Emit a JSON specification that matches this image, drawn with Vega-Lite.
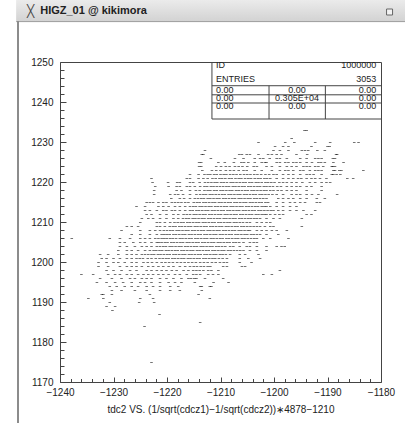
{
"$schema":"https://vega.github.io/schema/vega-lite/v6.json",
"width":321,"height":320,
"autosize":{"type":"none"},
"padding":{"left":60,"top":62,"right":24,"bottom":41},
"background":"#ffffff",
"config":{"view":{"stroke":"#444444","strokeWidth":1},"font":"Liberation Sans","text":{"font":"Liberation Sans","fontSize":9,"color":"#222222"},"rule":{"stroke":"#555555","strokeWidth":1}},
"resolve":{"axis":{"x":"independent","y":"independent"}},
"data":{"values":[{}]},
"datasets":{"pts":[
{"x":-1194.3,"y":1233},{"x":-1193.9,"y":1233},{"x":-1196.7,"y":1231},
{"x":-1202.9,"y":1230},{"x":-1197.9,"y":1230},{"x":-1196.2,"y":1230},{"x":-1192.3,"y":1230},{"x":-1189.5,"y":1230},{"x":-1185.0,"y":1230},{"x":-1184.2,"y":1230},
{"x":-1199.8,"y":1229},{"x":-1198.3,"y":1229},{"x":-1197.3,"y":1229},{"x":-1193.0,"y":1229},{"x":-1190.0,"y":1229},{"x":-1189.6,"y":1229},
{"x":-1212.9,"y":1228},{"x":-1200.1,"y":1228},{"x":-1198.9,"y":1228},{"x":-1197.3,"y":1228},{"x":-1194.8,"y":1228},{"x":-1194.2,"y":1228},{"x":-1193.6,"y":1228},{"x":-1191.9,"y":1228},{"x":-1190.5,"y":1228},
{"x":-1213.5,"y":1227},{"x":-1213.2,"y":1227},{"x":-1206.5,"y":1227},{"x":-1206.0,"y":1227},{"x":-1205.1,"y":1227},{"x":-1204.5,"y":1227},{"x":-1202.9,"y":1227},{"x":-1201.1,"y":1227},{"x":-1200.4,"y":1227},{"x":-1199.5,"y":1227},{"x":-1198.6,"y":1227},{"x":-1195.8,"y":1227},{"x":-1193.8,"y":1227},{"x":-1188.4,"y":1227},{"x":-1188.2,"y":1227},
{"x":-1211.8,"y":1226},{"x":-1207.3,"y":1226},{"x":-1205.7,"y":1226},{"x":-1203.6,"y":1226},{"x":-1202.6,"y":1226},{"x":-1202.0,"y":1226},{"x":-1200.8,"y":1226},{"x":-1199.5,"y":1226},{"x":-1198.9,"y":1226},{"x":-1197.6,"y":1226},{"x":-1195.1,"y":1226},{"x":-1193.9,"y":1226},{"x":-1192.3,"y":1226},{"x":-1191.7,"y":1226},{"x":-1191.1,"y":1226},{"x":-1189.0,"y":1226},{"x":-1188.6,"y":1226},
{"x":-1214.0,"y":1225},{"x":-1213.6,"y":1225},{"x":-1210.4,"y":1225},{"x":-1209.2,"y":1225},{"x":-1207.5,"y":1225},{"x":-1206.1,"y":1225},{"x":-1205.6,"y":1225},{"x":-1204.8,"y":1225},{"x":-1203.6,"y":1225},{"x":-1202.3,"y":1225},{"x":-1201.7,"y":1225},{"x":-1201.4,"y":1225},{"x":-1199.5,"y":1225},{"x":-1198.9,"y":1225},{"x":-1197.9,"y":1225},{"x":-1197.3,"y":1225},{"x":-1196.4,"y":1225},{"x":-1195.8,"y":1225},{"x":-1195.1,"y":1225},{"x":-1193.9,"y":1225},{"x":-1192.9,"y":1225},{"x":-1191.7,"y":1225},{"x":-1191.2,"y":1225},{"x":-1190.5,"y":1225},{"x":-1188.9,"y":1225},{"x":-1187.0,"y":1225},
{"x":-1214.0,"y":1224},{"x":-1213.6,"y":1224},{"x":-1210.8,"y":1224},{"x":-1209.9,"y":1224},{"x":-1209.0,"y":1224},{"x":-1208.3,"y":1224},{"x":-1207.3,"y":1224},{"x":-1206.6,"y":1224},{"x":-1205.9,"y":1224},{"x":-1205.0,"y":1224},{"x":-1203.8,"y":1224},{"x":-1203.2,"y":1224},{"x":-1201.4,"y":1224},{"x":-1200.4,"y":1224},{"x":-1198.9,"y":1224},{"x":-1197.6,"y":1224},{"x":-1196.7,"y":1224},{"x":-1195.8,"y":1224},{"x":-1194.5,"y":1224},{"x":-1193.9,"y":1224},{"x":-1193.3,"y":1224},{"x":-1192.3,"y":1224},{"x":-1191.7,"y":1224},{"x":-1190.8,"y":1224},{"x":-1189.2,"y":1224},{"x":-1189.0,"y":1224},{"x":-1188.6,"y":1224},
{"x":-1213.4,"y":1223},{"x":-1211.6,"y":1223},{"x":-1210.8,"y":1223},{"x":-1210.0,"y":1223},{"x":-1209.0,"y":1223},{"x":-1208.2,"y":1223},{"x":-1207.5,"y":1223},{"x":-1206.6,"y":1223},{"x":-1205.7,"y":1223},{"x":-1205.1,"y":1223},{"x":-1203.6,"y":1223},{"x":-1202.3,"y":1223},{"x":-1200.4,"y":1223},{"x":-1198.9,"y":1223},{"x":-1197.9,"y":1223},{"x":-1197.3,"y":1223},{"x":-1196.4,"y":1223},{"x":-1195.1,"y":1223},{"x":-1194.5,"y":1223},{"x":-1193.3,"y":1223},{"x":-1192.3,"y":1223},{"x":-1191.7,"y":1223},{"x":-1191.1,"y":1223},{"x":-1188.9,"y":1223},{"x":-1188.6,"y":1223},{"x":-1187.8,"y":1223},{"x":-1187.4,"y":1223},{"x":-1183.3,"y":1223},
{"x":-1215.7,"y":1222},{"x":-1214.1,"y":1222},{"x":-1213.0,"y":1222},{"x":-1212.4,"y":1222},{"x":-1211.9,"y":1222},{"x":-1211.2,"y":1222},{"x":-1210.7,"y":1222},{"x":-1210.0,"y":1222},{"x":-1209.4,"y":1222},{"x":-1208.9,"y":1222},{"x":-1208.2,"y":1222},{"x":-1207.6,"y":1222},{"x":-1207.0,"y":1222},{"x":-1206.3,"y":1222},{"x":-1205.6,"y":1222},{"x":-1205.0,"y":1222},{"x":-1204.4,"y":1222},{"x":-1203.7,"y":1222},{"x":-1203.1,"y":1222},{"x":-1202.4,"y":1222},{"x":-1201.6,"y":1222},{"x":-1200.9,"y":1222},{"x":-1200.1,"y":1222},{"x":-1199.5,"y":1222},{"x":-1198.3,"y":1222},{"x":-1197.3,"y":1222},{"x":-1196.4,"y":1222},{"x":-1195.1,"y":1222},{"x":-1193.9,"y":1222},{"x":-1193.3,"y":1222},{"x":-1192.6,"y":1222},{"x":-1191.1,"y":1222},{"x":-1189.2,"y":1222},{"x":-1188.9,"y":1222},{"x":-1188.3,"y":1222},{"x":-1187.6,"y":1222},
{"x":-1222.9,"y":1221},{"x":-1216.3,"y":1221},{"x":-1215.7,"y":1221},{"x":-1214.1,"y":1221},{"x":-1213.2,"y":1221},{"x":-1212.4,"y":1221},{"x":-1211.5,"y":1221},{"x":-1210.9,"y":1221},{"x":-1210.2,"y":1221},{"x":-1209.7,"y":1221},{"x":-1209.1,"y":1221},{"x":-1208.4,"y":1221},{"x":-1207.9,"y":1221},{"x":-1207.2,"y":1221},{"x":-1206.6,"y":1221},{"x":-1206.1,"y":1221},{"x":-1205.4,"y":1221},{"x":-1204.8,"y":1221},{"x":-1204.3,"y":1221},{"x":-1203.6,"y":1221},{"x":-1203.0,"y":1221},{"x":-1202.5,"y":1221},{"x":-1201.8,"y":1221},{"x":-1201.3,"y":1221},{"x":-1200.7,"y":1221},{"x":-1199.5,"y":1221},{"x":-1198.3,"y":1221},{"x":-1197.3,"y":1221},{"x":-1196.4,"y":1221},{"x":-1195.5,"y":1221},{"x":-1194.9,"y":1221},{"x":-1193.9,"y":1221},{"x":-1193.0,"y":1221},{"x":-1192.3,"y":1221},{"x":-1191.4,"y":1221},{"x":-1190.2,"y":1221},{"x":-1186.3,"y":1221},{"x":-1185.2,"y":1221},
{"x":-1222.7,"y":1220},{"x":-1219.8,"y":1220},{"x":-1218.1,"y":1220},{"x":-1217.6,"y":1220},{"x":-1215.7,"y":1220},{"x":-1215.1,"y":1220},{"x":-1213.9,"y":1220},{"x":-1212.9,"y":1220},{"x":-1212.3,"y":1220},{"x":-1211.7,"y":1220},{"x":-1211.1,"y":1220},{"x":-1210.6,"y":1220},{"x":-1209.9,"y":1220},{"x":-1209.4,"y":1220},{"x":-1208.8,"y":1220},{"x":-1208.1,"y":1220},{"x":-1207.6,"y":1220},{"x":-1207.0,"y":1220},{"x":-1206.4,"y":1220},{"x":-1205.8,"y":1220},{"x":-1205.3,"y":1220},{"x":-1204.6,"y":1220},{"x":-1204.1,"y":1220},{"x":-1203.4,"y":1220},{"x":-1202.9,"y":1220},{"x":-1202.3,"y":1220},{"x":-1201.6,"y":1220},{"x":-1201.1,"y":1220},{"x":-1200.5,"y":1220},{"x":-1199.9,"y":1220},{"x":-1199.0,"y":1220},{"x":-1198.3,"y":1220},{"x":-1197.6,"y":1220},{"x":-1196.7,"y":1220},{"x":-1195.8,"y":1220},{"x":-1194.7,"y":1220},{"x":-1193.3,"y":1220},{"x":-1192.3,"y":1220},{"x":-1191.1,"y":1220},{"x":-1190.2,"y":1220},{"x":-1189.5,"y":1220},
{"x":-1222.2,"y":1219},{"x":-1219.7,"y":1219},{"x":-1218.2,"y":1219},{"x":-1217.6,"y":1219},{"x":-1216.3,"y":1219},{"x":-1215.7,"y":1219},{"x":-1214.8,"y":1219},{"x":-1213.8,"y":1219},{"x":-1213.0,"y":1219},{"x":-1212.5,"y":1219},{"x":-1211.8,"y":1219},{"x":-1211.3,"y":1219},{"x":-1210.7,"y":1219},{"x":-1210.1,"y":1219},{"x":-1209.5,"y":1219},{"x":-1208.9,"y":1219},{"x":-1208.4,"y":1219},{"x":-1207.7,"y":1219},{"x":-1207.2,"y":1219},{"x":-1206.6,"y":1219},{"x":-1206.0,"y":1219},{"x":-1205.5,"y":1219},{"x":-1204.8,"y":1219},{"x":-1204.3,"y":1219},{"x":-1203.7,"y":1219},{"x":-1203.1,"y":1219},{"x":-1202.6,"y":1219},{"x":-1201.9,"y":1219},{"x":-1201.4,"y":1219},{"x":-1200.8,"y":1219},{"x":-1200.2,"y":1219},{"x":-1199.4,"y":1219},{"x":-1198.7,"y":1219},{"x":-1197.6,"y":1219},{"x":-1196.7,"y":1219},{"x":-1195.8,"y":1219},{"x":-1195.1,"y":1219},{"x":-1193.9,"y":1219},{"x":-1193.0,"y":1219},{"x":-1191.1,"y":1219},
{"x":-1222.4,"y":1218},{"x":-1218.2,"y":1218},{"x":-1217.3,"y":1218},{"x":-1215.7,"y":1218},{"x":-1214.6,"y":1218},{"x":-1213.9,"y":1218},{"x":-1213.0,"y":1218},{"x":-1212.4,"y":1218},{"x":-1211.9,"y":1218},{"x":-1211.2,"y":1218},{"x":-1210.7,"y":1218},{"x":-1210.0,"y":1218},{"x":-1209.5,"y":1218},{"x":-1208.9,"y":1218},{"x":-1208.3,"y":1218},{"x":-1207.8,"y":1218},{"x":-1207.1,"y":1218},{"x":-1206.6,"y":1218},{"x":-1206.0,"y":1218},{"x":-1205.4,"y":1218},{"x":-1204.9,"y":1218},{"x":-1204.2,"y":1218},{"x":-1203.7,"y":1218},{"x":-1203.1,"y":1218},{"x":-1202.5,"y":1218},{"x":-1201.9,"y":1218},{"x":-1201.4,"y":1218},{"x":-1200.7,"y":1218},{"x":-1200.1,"y":1218},{"x":-1199.3,"y":1218},{"x":-1198.6,"y":1218},{"x":-1197.6,"y":1218},{"x":-1196.7,"y":1218},{"x":-1195.8,"y":1218},{"x":-1193.9,"y":1218},{"x":-1191.1,"y":1218},
{"x":-1222.4,"y":1217},{"x":-1219.4,"y":1217},{"x":-1218.5,"y":1217},{"x":-1217.9,"y":1217},{"x":-1217.0,"y":1217},{"x":-1215.7,"y":1217},{"x":-1214.5,"y":1217},{"x":-1213.8,"y":1217},{"x":-1213.2,"y":1217},{"x":-1212.7,"y":1217},{"x":-1212.0,"y":1217},{"x":-1211.5,"y":1217},{"x":-1210.9,"y":1217},{"x":-1210.3,"y":1217},{"x":-1209.7,"y":1217},{"x":-1209.2,"y":1217},{"x":-1208.5,"y":1217},{"x":-1208.0,"y":1217},{"x":-1207.4,"y":1217},{"x":-1206.8,"y":1217},{"x":-1206.3,"y":1217},{"x":-1205.6,"y":1217},{"x":-1205.1,"y":1217},{"x":-1204.5,"y":1217},{"x":-1203.9,"y":1217},{"x":-1203.4,"y":1217},{"x":-1202.7,"y":1217},{"x":-1202.2,"y":1217},{"x":-1201.6,"y":1217},{"x":-1201.0,"y":1217},{"x":-1200.3,"y":1217},{"x":-1199.5,"y":1217},{"x":-1198.3,"y":1217},{"x":-1196.7,"y":1217},{"x":-1195.8,"y":1217},{"x":-1195.1,"y":1217},{"x":-1193.9,"y":1217},{"x":-1192.9,"y":1217},{"x":-1191.7,"y":1217},{"x":-1188.2,"y":1217},
{"x":-1219.2,"y":1216},{"x":-1217.6,"y":1216},{"x":-1216.8,"y":1216},{"x":-1215.7,"y":1216},{"x":-1214.8,"y":1216},{"x":-1214.2,"y":1216},{"x":-1213.6,"y":1216},{"x":-1213.1,"y":1216},{"x":-1212.4,"y":1216},{"x":-1211.9,"y":1216},{"x":-1211.3,"y":1216},{"x":-1210.7,"y":1216},{"x":-1210.2,"y":1216},{"x":-1209.5,"y":1216},{"x":-1209.0,"y":1216},{"x":-1208.4,"y":1216},{"x":-1207.8,"y":1216},{"x":-1207.3,"y":1216},{"x":-1206.6,"y":1216},{"x":-1206.1,"y":1216},{"x":-1205.5,"y":1216},{"x":-1204.9,"y":1216},{"x":-1204.4,"y":1216},{"x":-1203.7,"y":1216},{"x":-1203.2,"y":1216},{"x":-1202.6,"y":1216},{"x":-1202.0,"y":1216},{"x":-1201.4,"y":1216},{"x":-1199.2,"y":1216},{"x":-1198.3,"y":1216},{"x":-1197.3,"y":1216},{"x":-1196.4,"y":1216},{"x":-1195.1,"y":1216},{"x":-1193.9,"y":1216},{"x":-1192.0,"y":1216},{"x":-1190.5,"y":1216},
{"x":-1223.8,"y":1215},{"x":-1223.2,"y":1215},{"x":-1222.6,"y":1215},{"x":-1221.6,"y":1215},{"x":-1220.7,"y":1215},{"x":-1220.1,"y":1215},{"x":-1219.1,"y":1215},{"x":-1218.5,"y":1215},{"x":-1217.9,"y":1215},{"x":-1217.3,"y":1215},{"x":-1216.6,"y":1215},{"x":-1216.0,"y":1215},{"x":-1215.0,"y":1215},{"x":-1214.4,"y":1215},{"x":-1213.9,"y":1215},{"x":-1213.2,"y":1215},{"x":-1212.7,"y":1215},{"x":-1212.1,"y":1215},{"x":-1211.5,"y":1215},{"x":-1211.0,"y":1215},{"x":-1210.3,"y":1215},{"x":-1209.8,"y":1215},{"x":-1209.2,"y":1215},{"x":-1208.6,"y":1215},{"x":-1208.1,"y":1215},{"x":-1207.4,"y":1215},{"x":-1206.9,"y":1215},{"x":-1206.3,"y":1215},{"x":-1205.7,"y":1215},{"x":-1205.2,"y":1215},{"x":-1204.5,"y":1215},{"x":-1204.0,"y":1215},{"x":-1203.4,"y":1215},{"x":-1202.8,"y":1215},{"x":-1202.3,"y":1215},{"x":-1201.6,"y":1215},{"x":-1201.1,"y":1215},{"x":-1199.5,"y":1215},{"x":-1198.3,"y":1215},{"x":-1197.0,"y":1215},{"x":-1196.1,"y":1215},{"x":-1195.1,"y":1215},{"x":-1194.2,"y":1215},{"x":-1192.0,"y":1215},{"x":-1191.4,"y":1215},
{"x":-1225.7,"y":1214},{"x":-1224.1,"y":1214},{"x":-1221.6,"y":1214},{"x":-1220.7,"y":1214},{"x":-1219.7,"y":1214},{"x":-1218.5,"y":1214},{"x":-1217.6,"y":1214},{"x":-1216.6,"y":1214},{"x":-1215.7,"y":1214},{"x":-1215.1,"y":1214},{"x":-1214.6,"y":1214},{"x":-1213.9,"y":1214},{"x":-1213.4,"y":1214},{"x":-1212.8,"y":1214},{"x":-1212.2,"y":1214},{"x":-1211.7,"y":1214},{"x":-1211.0,"y":1214},{"x":-1210.5,"y":1214},{"x":-1209.9,"y":1214},{"x":-1209.3,"y":1214},{"x":-1208.8,"y":1214},{"x":-1208.1,"y":1214},{"x":-1207.6,"y":1214},{"x":-1207.0,"y":1214},{"x":-1206.4,"y":1214},{"x":-1205.9,"y":1214},{"x":-1205.2,"y":1214},{"x":-1204.7,"y":1214},{"x":-1204.1,"y":1214},{"x":-1203.5,"y":1214},{"x":-1203.0,"y":1214},{"x":-1202.3,"y":1214},{"x":-1201.8,"y":1214},{"x":-1201.4,"y":1214},{"x":-1200.7,"y":1214},{"x":-1199.5,"y":1214},{"x":-1198.3,"y":1214},{"x":-1197.0,"y":1214},{"x":-1195.8,"y":1214},
{"x":-1224.1,"y":1213},{"x":-1223.2,"y":1213},{"x":-1221.9,"y":1213},{"x":-1220.7,"y":1213},{"x":-1220.1,"y":1213},{"x":-1219.1,"y":1213},{"x":-1218.5,"y":1213},{"x":-1217.6,"y":1213},{"x":-1216.6,"y":1213},{"x":-1215.7,"y":1213},{"x":-1215.2,"y":1213},{"x":-1214.5,"y":1213},{"x":-1214.0,"y":1213},{"x":-1213.4,"y":1213},{"x":-1212.8,"y":1213},{"x":-1212.3,"y":1213},{"x":-1211.6,"y":1213},{"x":-1211.1,"y":1213},{"x":-1210.5,"y":1213},{"x":-1209.9,"y":1213},{"x":-1209.4,"y":1213},{"x":-1208.7,"y":1213},{"x":-1208.2,"y":1213},{"x":-1207.6,"y":1213},{"x":-1207.0,"y":1213},{"x":-1206.5,"y":1213},{"x":-1205.8,"y":1213},{"x":-1205.3,"y":1213},{"x":-1204.7,"y":1213},{"x":-1204.1,"y":1213},{"x":-1203.6,"y":1213},{"x":-1202.9,"y":1213},{"x":-1202.4,"y":1213},{"x":-1201.8,"y":1213},{"x":-1201.2,"y":1213},{"x":-1200.6,"y":1213},{"x":-1200.1,"y":1213},{"x":-1199.2,"y":1213},{"x":-1198.3,"y":1213},{"x":-1197.0,"y":1213},{"x":-1195.8,"y":1213},{"x":-1194.5,"y":1213},{"x":-1192.3,"y":1213},
{"x":-1223.8,"y":1212},{"x":-1222.9,"y":1212},{"x":-1221.3,"y":1212},{"x":-1220.1,"y":1212},{"x":-1218.8,"y":1212},{"x":-1217.9,"y":1212},{"x":-1216.9,"y":1212},{"x":-1216.3,"y":1212},{"x":-1215.7,"y":1212},{"x":-1215.0,"y":1212},{"x":-1214.5,"y":1212},{"x":-1213.9,"y":1212},{"x":-1213.3,"y":1212},{"x":-1212.8,"y":1212},{"x":-1212.1,"y":1212},{"x":-1211.6,"y":1212},{"x":-1211.0,"y":1212},{"x":-1210.4,"y":1212},{"x":-1209.9,"y":1212},{"x":-1209.2,"y":1212},{"x":-1208.7,"y":1212},{"x":-1208.1,"y":1212},{"x":-1207.5,"y":1212},{"x":-1207.0,"y":1212},{"x":-1206.3,"y":1212},{"x":-1205.8,"y":1212},{"x":-1205.2,"y":1212},{"x":-1204.6,"y":1212},{"x":-1204.1,"y":1212},{"x":-1203.4,"y":1212},{"x":-1202.9,"y":1212},{"x":-1202.3,"y":1212},{"x":-1201.8,"y":1212},{"x":-1201.4,"y":1212},{"x":-1200.7,"y":1212},{"x":-1199.8,"y":1212},{"x":-1199.0,"y":1212},{"x":-1198.3,"y":1212},{"x":-1193.9,"y":1212},{"x":-1193.0,"y":1212},
{"x":-1224.7,"y":1211},{"x":-1223.5,"y":1211},{"x":-1222.6,"y":1211},{"x":-1221.3,"y":1211},{"x":-1220.1,"y":1211},{"x":-1218.8,"y":1211},{"x":-1217.9,"y":1211},{"x":-1217.0,"y":1211},{"x":-1216.4,"y":1211},{"x":-1215.9,"y":1211},{"x":-1215.2,"y":1211},{"x":-1214.7,"y":1211},{"x":-1214.1,"y":1211},{"x":-1213.5,"y":1211},{"x":-1213.0,"y":1211},{"x":-1212.3,"y":1211},{"x":-1211.8,"y":1211},{"x":-1211.2,"y":1211},{"x":-1210.6,"y":1211},{"x":-1210.1,"y":1211},{"x":-1209.4,"y":1211},{"x":-1208.9,"y":1211},{"x":-1208.3,"y":1211},{"x":-1207.7,"y":1211},{"x":-1207.2,"y":1211},{"x":-1206.5,"y":1211},{"x":-1206.0,"y":1211},{"x":-1205.4,"y":1211},{"x":-1204.8,"y":1211},{"x":-1204.3,"y":1211},{"x":-1203.7,"y":1211},{"x":-1203.2,"y":1211},{"x":-1202.6,"y":1211},{"x":-1201.4,"y":1211},{"x":-1200.1,"y":1211},{"x":-1198.9,"y":1211},{"x":-1194.8,"y":1211},
{"x":-1225.0,"y":1210},{"x":-1221.9,"y":1210},{"x":-1221.3,"y":1210},{"x":-1220.4,"y":1210},{"x":-1219.4,"y":1210},{"x":-1218.6,"y":1210},{"x":-1218.0,"y":1210},{"x":-1217.4,"y":1210},{"x":-1216.9,"y":1210},{"x":-1216.2,"y":1210},{"x":-1215.7,"y":1210},{"x":-1215.1,"y":1210},{"x":-1214.5,"y":1210},{"x":-1214.0,"y":1210},{"x":-1213.3,"y":1210},{"x":-1212.8,"y":1210},{"x":-1212.2,"y":1210},{"x":-1211.6,"y":1210},{"x":-1211.1,"y":1210},{"x":-1210.4,"y":1210},{"x":-1209.9,"y":1210},{"x":-1209.3,"y":1210},{"x":-1208.7,"y":1210},{"x":-1208.2,"y":1210},{"x":-1207.5,"y":1210},{"x":-1207.0,"y":1210},{"x":-1206.4,"y":1210},{"x":-1205.8,"y":1210},{"x":-1205.1,"y":1210},{"x":-1204.5,"y":1210},{"x":-1203.2,"y":1210},{"x":-1202.3,"y":1210},{"x":-1201.4,"y":1210},{"x":-1200.7,"y":1210},
{"x":-1227.5,"y":1209},{"x":-1226.6,"y":1209},{"x":-1225.4,"y":1209},{"x":-1221.9,"y":1209},{"x":-1221.3,"y":1209},{"x":-1220.4,"y":1209},{"x":-1219.5,"y":1209},{"x":-1218.9,"y":1209},{"x":-1218.4,"y":1209},{"x":-1217.7,"y":1209},{"x":-1217.2,"y":1209},{"x":-1216.6,"y":1209},{"x":-1216.0,"y":1209},{"x":-1215.5,"y":1209},{"x":-1214.8,"y":1209},{"x":-1214.3,"y":1209},{"x":-1213.7,"y":1209},{"x":-1213.1,"y":1209},{"x":-1212.6,"y":1209},{"x":-1211.9,"y":1209},{"x":-1211.4,"y":1209},{"x":-1210.8,"y":1209},{"x":-1210.2,"y":1209},{"x":-1209.7,"y":1209},{"x":-1209.0,"y":1209},{"x":-1208.5,"y":1209},{"x":-1207.9,"y":1209},{"x":-1207.3,"y":1209},{"x":-1206.8,"y":1209},{"x":-1206.1,"y":1209},{"x":-1205.6,"y":1209},{"x":-1205.0,"y":1209},{"x":-1204.4,"y":1209},{"x":-1203.8,"y":1209},{"x":-1203.2,"y":1209},{"x":-1202.6,"y":1209},{"x":-1201.7,"y":1209},{"x":-1200.7,"y":1209},{"x":-1200.1,"y":1209},{"x":-1194.8,"y":1209},
{"x":-1228.5,"y":1208},{"x":-1225.0,"y":1208},{"x":-1223.2,"y":1208},{"x":-1222.2,"y":1208},{"x":-1221.3,"y":1208},{"x":-1220.6,"y":1208},{"x":-1220.0,"y":1208},{"x":-1219.4,"y":1208},{"x":-1218.9,"y":1208},{"x":-1218.2,"y":1208},{"x":-1217.7,"y":1208},{"x":-1217.1,"y":1208},{"x":-1216.5,"y":1208},{"x":-1216.0,"y":1208},{"x":-1215.3,"y":1208},{"x":-1214.8,"y":1208},{"x":-1214.2,"y":1208},{"x":-1213.6,"y":1208},{"x":-1213.1,"y":1208},{"x":-1212.4,"y":1208},{"x":-1211.9,"y":1208},{"x":-1211.3,"y":1208},{"x":-1210.7,"y":1208},{"x":-1210.2,"y":1208},{"x":-1209.5,"y":1208},{"x":-1209.0,"y":1208},{"x":-1208.4,"y":1208},{"x":-1207.8,"y":1208},{"x":-1207.3,"y":1208},{"x":-1206.6,"y":1208},{"x":-1206.1,"y":1208},{"x":-1205.5,"y":1208},{"x":-1204.9,"y":1208},{"x":-1204.5,"y":1208},{"x":-1203.2,"y":1208},{"x":-1202.3,"y":1208},{"x":-1201.4,"y":1208},{"x":-1200.4,"y":1208},{"x":-1199.5,"y":1208},{"x":-1197.6,"y":1208},
{"x":-1226.6,"y":1207},{"x":-1225.0,"y":1207},{"x":-1223.2,"y":1207},{"x":-1221.9,"y":1207},{"x":-1221.0,"y":1207},{"x":-1220.5,"y":1207},{"x":-1220.0,"y":1207},{"x":-1219.5,"y":1207},{"x":-1218.8,"y":1207},{"x":-1218.3,"y":1207},{"x":-1217.7,"y":1207},{"x":-1217.1,"y":1207},{"x":-1216.6,"y":1207},{"x":-1215.9,"y":1207},{"x":-1215.4,"y":1207},{"x":-1214.8,"y":1207},{"x":-1214.2,"y":1207},{"x":-1213.7,"y":1207},{"x":-1213.0,"y":1207},{"x":-1212.5,"y":1207},{"x":-1211.9,"y":1207},{"x":-1211.3,"y":1207},{"x":-1210.8,"y":1207},{"x":-1210.1,"y":1207},{"x":-1209.6,"y":1207},{"x":-1209.0,"y":1207},{"x":-1208.4,"y":1207},{"x":-1207.9,"y":1207},{"x":-1207.2,"y":1207},{"x":-1206.7,"y":1207},{"x":-1206.1,"y":1207},{"x":-1205.5,"y":1207},{"x":-1205.0,"y":1207},{"x":-1204.3,"y":1207},{"x":-1203.8,"y":1207},{"x":-1203.2,"y":1207},{"x":-1202.6,"y":1207},{"x":-1201.4,"y":1207},{"x":-1199.2,"y":1207},
{"x":-1237.8,"y":1206},{"x":-1230.7,"y":1206},{"x":-1228.8,"y":1206},{"x":-1226.9,"y":1206},{"x":-1225.0,"y":1206},{"x":-1224.1,"y":1206},{"x":-1223.2,"y":1206},{"x":-1222.2,"y":1206},{"x":-1221.6,"y":1206},{"x":-1221.0,"y":1206},{"x":-1220.5,"y":1206},{"x":-1220.0,"y":1206},{"x":-1219.4,"y":1206},{"x":-1218.9,"y":1206},{"x":-1218.3,"y":1206},{"x":-1217.6,"y":1206},{"x":-1217.1,"y":1206},{"x":-1216.5,"y":1206},{"x":-1215.9,"y":1206},{"x":-1215.4,"y":1206},{"x":-1214.7,"y":1206},{"x":-1214.2,"y":1206},{"x":-1213.6,"y":1206},{"x":-1213.0,"y":1206},{"x":-1212.5,"y":1206},{"x":-1211.8,"y":1206},{"x":-1211.3,"y":1206},{"x":-1210.7,"y":1206},{"x":-1210.1,"y":1206},{"x":-1209.6,"y":1206},{"x":-1208.9,"y":1206},{"x":-1208.4,"y":1206},{"x":-1207.8,"y":1206},{"x":-1207.2,"y":1206},{"x":-1206.7,"y":1206},{"x":-1206.0,"y":1206},{"x":-1205.5,"y":1206},{"x":-1204.9,"y":1206},{"x":-1204.3,"y":1206},{"x":-1203.7,"y":1206},{"x":-1203.2,"y":1206},{"x":-1202.0,"y":1206},{"x":-1200.7,"y":1206},{"x":-1197.3,"y":1206},
{"x":-1228.8,"y":1205},{"x":-1227.9,"y":1205},{"x":-1226.3,"y":1205},{"x":-1225.0,"y":1205},{"x":-1224.1,"y":1205},{"x":-1222.9,"y":1205},{"x":-1221.9,"y":1205},{"x":-1221.5,"y":1205},{"x":-1221.0,"y":1205},{"x":-1220.4,"y":1205},{"x":-1219.9,"y":1205},{"x":-1219.2,"y":1205},{"x":-1218.7,"y":1205},{"x":-1218.1,"y":1205},{"x":-1217.5,"y":1205},{"x":-1217.0,"y":1205},{"x":-1216.3,"y":1205},{"x":-1215.8,"y":1205},{"x":-1215.2,"y":1205},{"x":-1214.6,"y":1205},{"x":-1214.1,"y":1205},{"x":-1213.4,"y":1205},{"x":-1212.9,"y":1205},{"x":-1212.3,"y":1205},{"x":-1211.7,"y":1205},{"x":-1211.2,"y":1205},{"x":-1210.5,"y":1205},{"x":-1210.0,"y":1205},{"x":-1209.4,"y":1205},{"x":-1208.8,"y":1205},{"x":-1208.3,"y":1205},{"x":-1207.6,"y":1205},{"x":-1207.1,"y":1205},{"x":-1206.5,"y":1205},{"x":-1205.7,"y":1205},{"x":-1204.5,"y":1205},{"x":-1203.8,"y":1205},{"x":-1203.2,"y":1205},
{"x":-1228.8,"y":1204},{"x":-1227.5,"y":1204},{"x":-1226.0,"y":1204},{"x":-1224.7,"y":1204},{"x":-1223.8,"y":1204},{"x":-1222.9,"y":1204},{"x":-1221.9,"y":1204},{"x":-1221.3,"y":1204},{"x":-1220.7,"y":1204},{"x":-1220.2,"y":1204},{"x":-1219.5,"y":1204},{"x":-1219.0,"y":1204},{"x":-1218.4,"y":1204},{"x":-1217.8,"y":1204},{"x":-1217.3,"y":1204},{"x":-1216.6,"y":1204},{"x":-1216.1,"y":1204},{"x":-1215.5,"y":1204},{"x":-1214.9,"y":1204},{"x":-1214.4,"y":1204},{"x":-1213.7,"y":1204},{"x":-1213.2,"y":1204},{"x":-1212.6,"y":1204},{"x":-1212.0,"y":1204},{"x":-1211.5,"y":1204},{"x":-1210.8,"y":1204},{"x":-1210.3,"y":1204},{"x":-1209.7,"y":1204},{"x":-1209.1,"y":1204},{"x":-1208.2,"y":1204},{"x":-1207.6,"y":1204},{"x":-1206.4,"y":1204},{"x":-1205.1,"y":1204},{"x":-1204.5,"y":1204},{"x":-1203.2,"y":1204},{"x":-1201.4,"y":1204},{"x":-1199.5,"y":1204},{"x":-1198.6,"y":1204},{"x":-1198.0,"y":1204},
{"x":-1229.1,"y":1203},{"x":-1227.5,"y":1203},{"x":-1226.6,"y":1203},{"x":-1225.4,"y":1203},{"x":-1224.1,"y":1203},{"x":-1223.2,"y":1203},{"x":-1222.5,"y":1203},{"x":-1222.0,"y":1203},{"x":-1221.4,"y":1203},{"x":-1220.9,"y":1203},{"x":-1220.2,"y":1203},{"x":-1219.7,"y":1203},{"x":-1219.1,"y":1203},{"x":-1218.5,"y":1203},{"x":-1218.0,"y":1203},{"x":-1217.3,"y":1203},{"x":-1216.8,"y":1203},{"x":-1216.2,"y":1203},{"x":-1215.6,"y":1203},{"x":-1215.1,"y":1203},{"x":-1214.4,"y":1203},{"x":-1213.9,"y":1203},{"x":-1213.3,"y":1203},{"x":-1212.7,"y":1203},{"x":-1212.2,"y":1203},{"x":-1211.5,"y":1203},{"x":-1211.0,"y":1203},{"x":-1210.4,"y":1203},{"x":-1209.8,"y":1203},{"x":-1209.3,"y":1203},{"x":-1208.6,"y":1203},{"x":-1208.1,"y":1203},{"x":-1207.5,"y":1203},{"x":-1206.9,"y":1203},{"x":-1206.3,"y":1203},{"x":-1205.7,"y":1203},{"x":-1204.5,"y":1203},{"x":-1203.2,"y":1203},{"x":-1201.4,"y":1203},
{"x":-1232.5,"y":1202},{"x":-1231.0,"y":1202},{"x":-1229.1,"y":1202},{"x":-1227.5,"y":1202},{"x":-1226.6,"y":1202},{"x":-1225.7,"y":1202},{"x":-1224.7,"y":1202},{"x":-1224.1,"y":1202},{"x":-1223.5,"y":1202},{"x":-1222.9,"y":1202},{"x":-1222.4,"y":1202},{"x":-1221.7,"y":1202},{"x":-1221.2,"y":1202},{"x":-1220.6,"y":1202},{"x":-1220.0,"y":1202},{"x":-1219.5,"y":1202},{"x":-1218.8,"y":1202},{"x":-1218.3,"y":1202},{"x":-1217.7,"y":1202},{"x":-1217.1,"y":1202},{"x":-1216.6,"y":1202},{"x":-1215.9,"y":1202},{"x":-1215.4,"y":1202},{"x":-1214.8,"y":1202},{"x":-1214.2,"y":1202},{"x":-1213.7,"y":1202},{"x":-1213.0,"y":1202},{"x":-1212.5,"y":1202},{"x":-1211.9,"y":1202},{"x":-1211.3,"y":1202},{"x":-1210.8,"y":1202},{"x":-1210.1,"y":1202},{"x":-1209.6,"y":1202},{"x":-1209.0,"y":1202},{"x":-1208.2,"y":1202},{"x":-1206.4,"y":1202},{"x":-1205.4,"y":1202},{"x":-1202.9,"y":1202},
{"x":-1232.2,"y":1201},{"x":-1231.3,"y":1201},{"x":-1230.0,"y":1201},{"x":-1228.8,"y":1201},{"x":-1227.5,"y":1201},{"x":-1226.6,"y":1201},{"x":-1225.7,"y":1201},{"x":-1225.1,"y":1201},{"x":-1224.5,"y":1201},{"x":-1223.6,"y":1201},{"x":-1222.9,"y":1201},{"x":-1222.1,"y":1201},{"x":-1221.4,"y":1201},{"x":-1220.8,"y":1201},{"x":-1220.2,"y":1201},{"x":-1219.7,"y":1201},{"x":-1219.0,"y":1201},{"x":-1218.5,"y":1201},{"x":-1217.9,"y":1201},{"x":-1217.3,"y":1201},{"x":-1216.8,"y":1201},{"x":-1216.1,"y":1201},{"x":-1215.6,"y":1201},{"x":-1215.0,"y":1201},{"x":-1214.4,"y":1201},{"x":-1213.9,"y":1201},{"x":-1213.2,"y":1201},{"x":-1212.7,"y":1201},{"x":-1212.1,"y":1201},{"x":-1211.5,"y":1201},{"x":-1211.0,"y":1201},{"x":-1210.3,"y":1201},{"x":-1209.6,"y":1201},{"x":-1208.8,"y":1201},{"x":-1206.4,"y":1201},{"x":-1204.8,"y":1201},{"x":-1202.6,"y":1201},
{"x":-1232.8,"y":1200},{"x":-1231.3,"y":1200},{"x":-1230.0,"y":1200},{"x":-1229.1,"y":1200},{"x":-1227.9,"y":1200},{"x":-1226.6,"y":1200},{"x":-1225.7,"y":1200},{"x":-1224.4,"y":1200},{"x":-1223.6,"y":1200},{"x":-1222.8,"y":1200},{"x":-1221.9,"y":1200},{"x":-1221.0,"y":1200},{"x":-1220.3,"y":1200},{"x":-1219.6,"y":1200},{"x":-1218.9,"y":1200},{"x":-1218.1,"y":1200},{"x":-1217.4,"y":1200},{"x":-1216.7,"y":1200},{"x":-1216.0,"y":1200},{"x":-1215.3,"y":1200},{"x":-1214.6,"y":1200},{"x":-1213.8,"y":1200},{"x":-1213.1,"y":1200},{"x":-1212.4,"y":1200},{"x":-1211.6,"y":1200},{"x":-1210.9,"y":1200},{"x":-1210.1,"y":1200},{"x":-1209.4,"y":1200},{"x":-1208.8,"y":1200},{"x":-1206.4,"y":1200},{"x":-1204.2,"y":1200},
{"x":-1232.8,"y":1199},{"x":-1231.0,"y":1199},{"x":-1228.8,"y":1199},{"x":-1227.5,"y":1199},{"x":-1226.6,"y":1199},{"x":-1225.7,"y":1199},{"x":-1224.7,"y":1199},{"x":-1223.5,"y":1199},{"x":-1222.6,"y":1199},{"x":-1221.6,"y":1199},{"x":-1220.7,"y":1199},{"x":-1219.7,"y":1199},{"x":-1218.8,"y":1199},{"x":-1217.6,"y":1199},{"x":-1216.6,"y":1199},{"x":-1215.7,"y":1199},{"x":-1215.0,"y":1199},{"x":-1214.4,"y":1199},{"x":-1213.7,"y":1199},{"x":-1213.1,"y":1199},{"x":-1212.4,"y":1199},{"x":-1211.9,"y":1199},{"x":-1209.5,"y":1199},{"x":-1208.8,"y":1199},{"x":-1206.0,"y":1199},{"x":-1205.4,"y":1199},
{"x":-1231.3,"y":1198},{"x":-1230.0,"y":1198},{"x":-1228.5,"y":1198},{"x":-1226.9,"y":1198},{"x":-1225.7,"y":1198},{"x":-1223.8,"y":1198},{"x":-1222.9,"y":1198},{"x":-1221.9,"y":1198},{"x":-1221.0,"y":1198},{"x":-1220.1,"y":1198},{"x":-1219.1,"y":1198},{"x":-1218.2,"y":1198},{"x":-1216.9,"y":1198},{"x":-1216.0,"y":1198},{"x":-1215.1,"y":1198},{"x":-1214.5,"y":1198},{"x":-1213.9,"y":1198},{"x":-1213.2,"y":1198},{"x":-1212.3,"y":1198},{"x":-1211.7,"y":1198},{"x":-1210.4,"y":1198},{"x":-1198.9,"y":1198},
{"x":-1236.0,"y":1197},{"x":-1233.8,"y":1197},{"x":-1231.0,"y":1197},{"x":-1229.7,"y":1197},{"x":-1228.8,"y":1197},{"x":-1227.5,"y":1197},{"x":-1226.6,"y":1197},{"x":-1225.4,"y":1197},{"x":-1224.4,"y":1197},{"x":-1223.5,"y":1197},{"x":-1222.6,"y":1197},{"x":-1221.6,"y":1197},{"x":-1220.7,"y":1197},{"x":-1219.7,"y":1197},{"x":-1218.5,"y":1197},{"x":-1217.6,"y":1197},{"x":-1216.3,"y":1197},{"x":-1215.1,"y":1197},{"x":-1214.5,"y":1197},{"x":-1213.8,"y":1197},{"x":-1212.3,"y":1197},{"x":-1211.4,"y":1197},{"x":-1210.4,"y":1197},{"x":-1202.0,"y":1197},{"x":-1200.4,"y":1197},
{"x":-1232.5,"y":1196},{"x":-1230.3,"y":1196},{"x":-1228.5,"y":1196},{"x":-1226.9,"y":1196},{"x":-1226.0,"y":1196},{"x":-1224.7,"y":1196},{"x":-1223.8,"y":1196},{"x":-1222.9,"y":1196},{"x":-1221.3,"y":1196},{"x":-1220.1,"y":1196},{"x":-1218.8,"y":1196},{"x":-1217.3,"y":1196},{"x":-1216.0,"y":1196},{"x":-1215.5,"y":1196},{"x":-1214.9,"y":1196},{"x":-1214.5,"y":1196},{"x":-1212.9,"y":1196},{"x":-1209.5,"y":1196},
{"x":-1233.1,"y":1195},{"x":-1231.3,"y":1195},{"x":-1229.7,"y":1195},{"x":-1228.2,"y":1195},{"x":-1226.6,"y":1195},{"x":-1225.0,"y":1195},{"x":-1224.1,"y":1195},{"x":-1222.9,"y":1195},{"x":-1221.3,"y":1195},{"x":-1219.7,"y":1195},{"x":-1218.5,"y":1195},{"x":-1217.3,"y":1195},{"x":-1214.8,"y":1195},{"x":-1211.3,"y":1195},{"x":-1208.5,"y":1195},
{"x":-1230.7,"y":1194},{"x":-1229.4,"y":1194},{"x":-1227.9,"y":1194},{"x":-1226.6,"y":1194},{"x":-1225.4,"y":1194},{"x":-1223.8,"y":1194},{"x":-1222.6,"y":1194},{"x":-1221.3,"y":1194},{"x":-1219.4,"y":1194},{"x":-1217.9,"y":1194},{"x":-1213.8,"y":1194},{"x":-1213.5,"y":1194},{"x":-1212.0,"y":1194},{"x":-1211.7,"y":1194},
{"x":-1230.3,"y":1193},{"x":-1228.5,"y":1193},{"x":-1226.0,"y":1193},{"x":-1223.8,"y":1193},{"x":-1221.3,"y":1193},{"x":-1219.4,"y":1193},{"x":-1217.6,"y":1193},{"x":-1213.5,"y":1193},
{"x":-1232.2,"y":1192},{"x":-1231.9,"y":1192},{"x":-1230.3,"y":1192},{"x":-1223.2,"y":1192},{"x":-1214.1,"y":1192},
{"x":-1234.7,"y":1191},{"x":-1231.9,"y":1191},{"x":-1225.0,"y":1191},{"x":-1222.6,"y":1191},{"x":-1212.0,"y":1191},
{"x":-1230.7,"y":1190},{"x":-1225.2,"y":1190},{"x":-1222.4,"y":1190},
{"x":-1231.3,"y":1189},{"x":-1229.7,"y":1189},{"x":-1230.2,"y":1188},{"x":-1221.4,"y":1187},{"x":-1213.8,"y":1185},{"x":-1224.2,"y":1184},{"x":-1222.9,"y":1175}
]},
"layer":[
{"mark":{"type":"rect","fill":{"gradient":"linear","x1":0,"y1":0,"x2":0,"y2":1,"stops":[{"offset":0,"color":"#ebebeb"},{"offset":1,"color":"#d3d3d3"}]}},
 "encoding":{"x":{"datum":-1248.2,"type":"quantitative","scale":{"domain":[-1240,-1180]},"axis":null},"x2":{"datum":-1175.5},"y":{"datum":1265.5,"type":"quantitative","scale":{"domain":[1170,1250]},"axis":null},"y2":{"datum":1260.25}}},
{"mark":{"type":"rule","stroke":"#9a9a9a","strokeWidth":1},
 "encoding":{"x":{"datum":-1248.2,"type":"quantitative","scale":{"domain":[-1240,-1180]},"axis":null},"x2":{"datum":-1175.5},"y":{"datum":1260.1,"type":"quantitative","scale":{"domain":[1170,1250]},"axis":null}}},
{"mark":{"type":"rule","stroke":"#8c8c8c","strokeWidth":2},
 "encoding":{"x":{"datum":-1247.85,"type":"quantitative","scale":{"domain":[-1240,-1180]},"axis":null},"y":{"datum":1260.25,"type":"quantitative","scale":{"domain":[1170,1250]},"axis":null},"y2":{"datum":1159.7}}},
{"mark":{"type":"text","text":"╳","font":"DejaVu Sans","fontSize":12,"color":"#444444","align":"center","baseline":"middle"},
 "encoding":{"x":{"datum":-1245.5,"type":"quantitative","scale":{"domain":[-1240,-1180]},"axis":null},"y":{"datum":1262.7,"type":"quantitative","scale":{"domain":[1170,1250]},"axis":null}}},
{"mark":{"type":"text","text":"HIGZ_01 @ kikimora","font":"Liberation Sans","fontSize":11,"fontWeight":"bold","color":"#222222","align":"left","baseline":"middle"},
 "encoding":{"x":{"datum":-1243.7,"type":"quantitative","scale":{"domain":[-1240,-1180]},"axis":null},"y":{"datum":1262.75,"type":"quantitative","scale":{"domain":[1170,1250]},"axis":null}}},
{"mark":{"type":"point","shape":"square","size":36,"filled":true,"fill":"#f2f2f2","stroke":"#666666","strokeWidth":1,"opacity":1},
 "encoding":{"x":{"datum":-1178.4,"type":"quantitative","scale":{"domain":[-1240,-1180]},"axis":null},"y":{"datum":1262.5,"type":"quantitative","scale":{"domain":[1170,1250]},"axis":null}}},
{"mark":{"type":"rule","stroke":"#444444"},
 "encoding":{"x":{"datum":-1211.6,"type":"quantitative","scale":{"domain":[-1240,-1180]},"axis":null},"y":{"datum":1250,"type":"quantitative","scale":{"domain":[1170,1250]},"axis":null},"y2":{"datum":1235.75}}},
{"mark":{"type":"rule","stroke":"#444444"},
 "encoding":{"x":{"datum":-1211.6,"type":"quantitative","scale":{"domain":[-1240,-1180]},"axis":null},"x2":{"datum":-1180},"y":{"datum":1244.07,"type":"quantitative","scale":{"domain":[1170,1250]},"axis":null}}},
{"mark":{"type":"rule","stroke":"#444444"},
 "encoding":{"x":{"datum":-1211.6,"type":"quantitative","scale":{"domain":[-1240,-1180]},"axis":null},"x2":{"datum":-1180},"y":{"datum":1241.8,"type":"quantitative","scale":{"domain":[1170,1250]},"axis":null}}},
{"mark":{"type":"rule","stroke":"#444444"},
 "encoding":{"x":{"datum":-1211.6,"type":"quantitative","scale":{"domain":[-1240,-1180]},"axis":null},"x2":{"datum":-1180},"y":{"datum":1239.75,"type":"quantitative","scale":{"domain":[1170,1250]},"axis":null}}},
{"mark":{"type":"rule","stroke":"#444444"},
 "encoding":{"x":{"datum":-1211.6,"type":"quantitative","scale":{"domain":[-1240,-1180]},"axis":null},"x2":{"datum":-1180},"y":{"datum":1235.75,"type":"quantitative","scale":{"domain":[1170,1250]},"axis":null}}},
{"mark":{"type":"rule","stroke":"#444444"},
 "encoding":{"x":{"datum":-1200.93,"type":"quantitative","scale":{"domain":[-1240,-1180]},"axis":null},"y":{"datum":1244.07,"type":"quantitative","scale":{"domain":[1170,1250]},"axis":null},"y2":{"datum":1235.75}}},
{"mark":{"type":"rule","stroke":"#444444"},
 "encoding":{"x":{"datum":-1190.4,"type":"quantitative","scale":{"domain":[-1240,-1180]},"axis":null},"y":{"datum":1244.07,"type":"quantitative","scale":{"domain":[1170,1250]},"axis":null},"y2":{"datum":1235.75}}},
{"mark":{"type":"text","text":"ID","align":"left","baseline":"alphabetic"},
 "encoding":{"x":{"datum":-1210.84,"type":"quantitative","scale":{"domain":[-1240,-1180]},"axis":null},"y":{"datum":1248.6,"type":"quantitative","scale":{"domain":[1170,1250]},"axis":null}}},
{"mark":{"type":"text","text":"1000000","align":"right","baseline":"alphabetic"},
 "encoding":{"x":{"datum":-1180.9,"type":"quantitative","scale":{"domain":[-1240,-1180]},"axis":null},"y":{"datum":1248.6,"type":"quantitative","scale":{"domain":[1170,1250]},"axis":null}}},
{"mark":{"type":"text","text":"ENTRIES","align":"left","baseline":"alphabetic"},
 "encoding":{"x":{"datum":-1210.84,"type":"quantitative","scale":{"domain":[-1240,-1180]},"axis":null},"y":{"datum":1245.05,"type":"quantitative","scale":{"domain":[1170,1250]},"axis":null}}},
{"mark":{"type":"text","text":"3053","align":"right","baseline":"alphabetic"},
 "encoding":{"x":{"datum":-1180.9,"type":"quantitative","scale":{"domain":[-1240,-1180]},"axis":null},"y":{"datum":1245.05,"type":"quantitative","scale":{"domain":[1170,1250]},"axis":null}}},
{"mark":{"type":"text","text":["0.00","0.00","0.00"],"lineHeight":8.3,"align":"left","baseline":"alphabetic"},
 "encoding":{"x":{"datum":-1210.84,"type":"quantitative","scale":{"domain":[-1240,-1180]},"axis":null},"y":{"datum":1242.35,"type":"quantitative","scale":{"domain":[1170,1250]},"axis":null}}},
{"mark":{"type":"text","text":["0.00","0.305E+04","0.00"],"lineHeight":8.3,"align":"center","baseline":"alphabetic"},
 "encoding":{"x":{"datum":-1195.7,"type":"quantitative","scale":{"domain":[-1240,-1180]},"axis":null},"y":{"datum":1242.35,"type":"quantitative","scale":{"domain":[1170,1250]},"axis":null}}},
{"mark":{"type":"text","text":["0.00","0.00","0.00"],"lineHeight":8.3,"align":"right","baseline":"alphabetic"},
 "encoding":{"x":{"datum":-1180.9,"type":"quantitative","scale":{"domain":[-1240,-1180]},"axis":null},"y":{"datum":1242.35,"type":"quantitative","scale":{"domain":[1170,1250]},"axis":null}}},
{"data":{"name":"pts"},
 "mark":{"type":"point","shape":"M-1.3,0H1.3V1H-1.3Z","size":4,"filled":true,"color":"#000000","opacity":0.55,"strokeWidth":0},
 "encoding":{
  "x":{"field":"x","type":"quantitative","scale":{"domain":[-1240,-1180],"nice":false,"zero":false},
   "axis":{"orient":"bottom","values":[-1240,-1238,-1236,-1234,-1232,-1230,-1228,-1226,-1224,-1222,-1220,-1218,-1216,-1214,-1212,-1210,-1208,-1206,-1204,-1202,-1200,-1198,-1196,-1194,-1192,-1190,-1188,-1186,-1184,-1182,-1180],
    "format":"d","domain":false,"grid":false,"tickColor":"#444444","tickWidth":1,
    "tickSize":{"condition":{"test":"datum.value % 10 === 0","value":-5},"value":-3.5},
    "labelExpr":"datum.value % 10 === 0 ? datum.label : ''",
    "labelFont":"Liberation Sans","labelFontSize":10,"labelColor":"#222222","labelPadding":10,"labelFlush":false,"labelOverlap":false,
    "title":"tdc2 VS. (1/sqrt(cdcz1)−1/sqrt(cdcz2))∗4878−1210","titleFont":"Liberation Sans","titleFontSize":10,"titleFontWeight":"normal","titleColor":"#222222","titlePadding":6}},
  "y":{"field":"y","type":"quantitative","scale":{"domain":[1170,1250],"nice":false,"zero":false},
   "axis":{"orient":"left","values":[1170,1172,1174,1176,1178,1180,1182,1184,1186,1188,1190,1192,1194,1196,1198,1200,1202,1204,1206,1208,1210,1212,1214,1216,1218,1220,1222,1224,1226,1228,1230,1232,1234,1236,1238,1240,1242,1244,1246,1248,1250],
    "format":"d","domain":false,"grid":false,"tickColor":"#444444","tickWidth":1,
    "tickSize":{"condition":{"test":"datum.value % 10 === 0","value":-6},"value":-4},
    "labelExpr":"datum.value % 10 === 0 ? datum.label : ''",
    "labelFont":"Liberation Sans","labelFontSize":10,"labelColor":"#222222","labelPadding":13,"labelOverlap":false,"labelFlush":false,
    "title":null}}
 }}
]
}
